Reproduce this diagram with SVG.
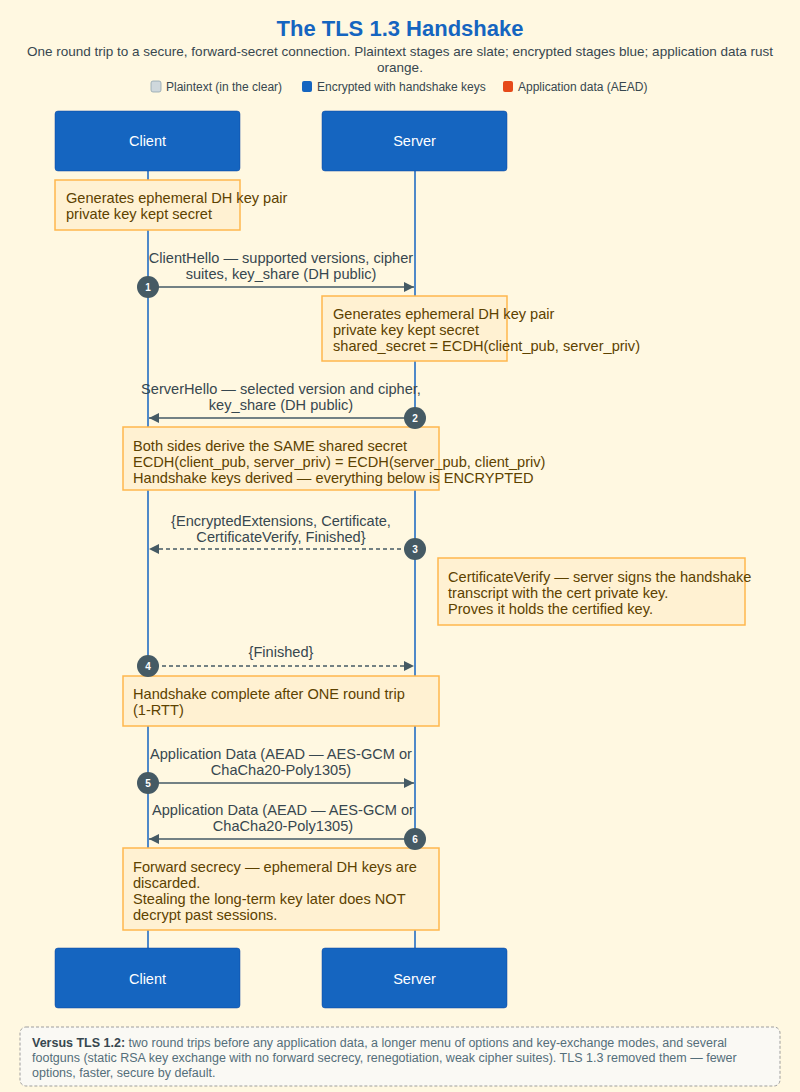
<svg xmlns="http://www.w3.org/2000/svg" width="800" height="1092" viewBox="0 0 800 1092">
<defs>
<style>
text{font-family:"Liberation Sans",Arial,sans-serif}
.title{font-size:22px;font-weight:bold;fill:#1565C0}
.sub{font-size:13.5px;fill:#37474F}
.leg{font-size:12px;fill:#37474F}
.actor rect{fill:#1565C0;stroke:#0D47A1;stroke-width:0.5}
.actor text{font-size:14.5px;fill:#fff;text-anchor:middle}
.life{stroke:#1565C0;stroke-width:1.5}
.note rect{fill:#FFF1D2;stroke:#FFB74D;stroke-width:1.5}
.note text{font-size:14.6px;fill:#5D4200}
.msg{stroke:#455A64;stroke-width:1.5;fill:none}
.dash{stroke-dasharray:4 3}
.lbl{font-size:14.6px;fill:#37474F;text-anchor:middle}
.badge circle{fill:#455A64}
.badge text{font-size:10px;font-weight:bold;fill:#fff;text-anchor:middle}
.foot{font-size:12.5px;fill:#546E7A}
</style>
<marker id="ah" viewBox="0 0 10 10" refX="10" refY="5" markerWidth="10" markerHeight="10" markerUnits="userSpaceOnUse" orient="auto">
<path d="M0,0 L10,5 L0,10 z" fill="#455A64"/>
</marker>
</defs>
<rect width="800" height="1092" fill="#FFF8E1"/>
<g id="header">
<text class="title" x="400" y="36" text-anchor="middle">The TLS 1.3 Handshake</text>
<text class="sub" x="400" y="56" text-anchor="middle">One round trip to a secure, forward-secret connection. Plaintext stages are slate; encrypted stages blue; application data rust</text>
<text class="sub" x="400" y="72" text-anchor="middle">orange.</text>
</g>
<g id="legend">
<rect x="151" y="81" width="10" height="11" rx="2" fill="#CFD8DC" stroke="#90A4AE" stroke-width="0.8"/>
<text class="leg" x="166" y="91">Plaintext (in the clear)</text>
<rect x="302" y="81" width="10" height="11" rx="2" fill="#1565C0"/>
<text class="leg" x="317" y="91">Encrypted with handshake keys</text>
<rect x="503" y="81" width="10" height="11" rx="2" fill="#E64A19"/>
<text class="leg" x="518" y="91">Application data (AEAD)</text>
</g>
<g id="lifelines">
<line class="life" x1="148" y1="171" x2="148" y2="948"/>
<line class="life" x1="415" y1="171" x2="415" y2="948"/>
</g>
<g id="client-top" class="actor"><rect x="55" y="111" width="185" height="60" rx="3"/><text x="147.5" y="146">Client</text></g>
<g id="server-top" class="actor"><rect x="322" y="111" width="185" height="60" rx="3"/><text x="414.5" y="146">Server</text></g>
<g id="client-bottom" class="actor"><rect x="55" y="948" width="185" height="60" rx="3"/><text x="147.5" y="984">Client</text></g>
<g id="server-bottom" class="actor"><rect x="322" y="948" width="185" height="60" rx="3"/><text x="414.5" y="984">Server</text></g>
<g id="connectors">
<line class="msg" x1="148" y1="287" x2="414" y2="287" marker-end="url(#ah)"/>
<text class="lbl" x="281" y="263">ClientHello — supported versions, cipher</text>
<text class="lbl" x="281" y="279">suites, key_share (DH public)</text>
<line class="msg" x1="415" y1="418" x2="149" y2="418" marker-end="url(#ah)"/>
<text class="lbl" x="281" y="394">ServerHello — selected version and cipher,</text>
<text class="lbl" x="281" y="410">key_share (DH public)</text>
<line class="msg dash" x1="415" y1="549" x2="149" y2="549" marker-end="url(#ah)"/>
<text class="lbl" x="281" y="526">{EncryptedExtensions, Certificate,</text>
<text class="lbl" x="281" y="542">CertificateVerify, Finished}</text>
<line class="msg dash" x1="148" y1="666" x2="414" y2="666" marker-end="url(#ah)"/>
<text class="lbl" x="281" y="657">{Finished}</text>
<line class="msg" x1="148" y1="783" x2="414" y2="783" marker-end="url(#ah)"/>
<text class="lbl" x="281" y="759">Application Data (AEAD — AES-GCM or</text>
<text class="lbl" x="281" y="775">ChaCha20-Poly1305)</text>
<line class="msg" x1="415" y1="839" x2="149" y2="839" marker-end="url(#ah)"/>
<text class="lbl" x="283" y="815">Application Data (AEAD — AES-GCM or</text>
<text class="lbl" x="283" y="831">ChaCha20-Poly1305)</text>
</g>
<g id="note-client-keys" class="note"><rect x="55" y="180" width="185" height="50"/>
<text x="66" y="203">Generates ephemeral DH key pair</text>
<text x="66" y="219">private key kept secret</text></g>
<g id="note-server-keys" class="note"><rect x="322" y="296" width="185" height="65"/>
<text x="333" y="319">Generates ephemeral DH key pair</text>
<text x="333" y="335">private key kept secret</text>
<text x="333" y="351">shared_secret = ECDH(client_pub, server_priv)</text></g>
<g id="note-shared" class="note"><rect x="123" y="427" width="316" height="63"/>
<text x="133" y="451">Both sides derive the SAME shared secret</text>
<text x="133" y="467">ECDH(client_pub, server_priv) = ECDH(server_pub, client_priv)</text>
<text x="133" y="483">Handshake keys derived — everything below is ENCRYPTED</text></g>
<g id="note-certverify" class="note"><rect x="438" y="558" width="307" height="67"/>
<text x="448" y="582">CertificateVerify — server signs the handshake</text>
<text x="448" y="598">transcript with the cert private key.</text>
<text x="448" y="614">Proves it holds the certified key.</text></g>
<g id="note-complete" class="note"><rect x="123" y="676" width="316" height="50"/>
<text x="133" y="699">Handshake complete after ONE round trip</text>
<text x="133" y="715">(1-RTT)</text></g>
<g id="note-forward" class="note"><rect x="123" y="848" width="316" height="82"/>
<text x="133" y="872">Forward secrecy — ephemeral DH keys are</text>
<text x="133" y="888">discarded.</text>
<text x="133" y="904">Stealing the long-term key later does NOT</text>
<text x="133" y="920">decrypt past sessions.</text></g>
<g id="badges">
<g class="badge"><circle cx="148" cy="287" r="11"/><text x="148" y="291">1</text></g>
<g class="badge"><circle cx="415" cy="418" r="11"/><text x="415" y="422">2</text></g>
<g class="badge"><circle cx="415" cy="549" r="11"/><text x="415" y="553">3</text></g>
<g class="badge"><circle cx="148" cy="666" r="11"/><text x="148" y="670">4</text></g>
<g class="badge"><circle cx="148" cy="783" r="11"/><text x="148" y="787">5</text></g>
<g class="badge"><circle cx="415" cy="839" r="11"/><text x="415" y="843">6</text></g>
</g>
<g id="footer">
<rect x="20" y="1027" width="760" height="59" rx="6" fill="#FAF9F4" stroke="#9E9E9E" stroke-width="1" stroke-dasharray="3 2"/>
<text class="foot" x="32" y="1047"><tspan font-weight="bold" fill="#37474F">Versus TLS 1.2:</tspan> two round trips before any application data, a longer menu of options and key-exchange modes, and several</text>
<text class="foot" x="32" y="1062">footguns (static RSA key exchange with no forward secrecy, renegotiation, weak cipher suites). TLS 1.3 removed them — fewer</text>
<text class="foot" x="32" y="1077">options, faster, secure by default.</text>
</g>
</svg>
